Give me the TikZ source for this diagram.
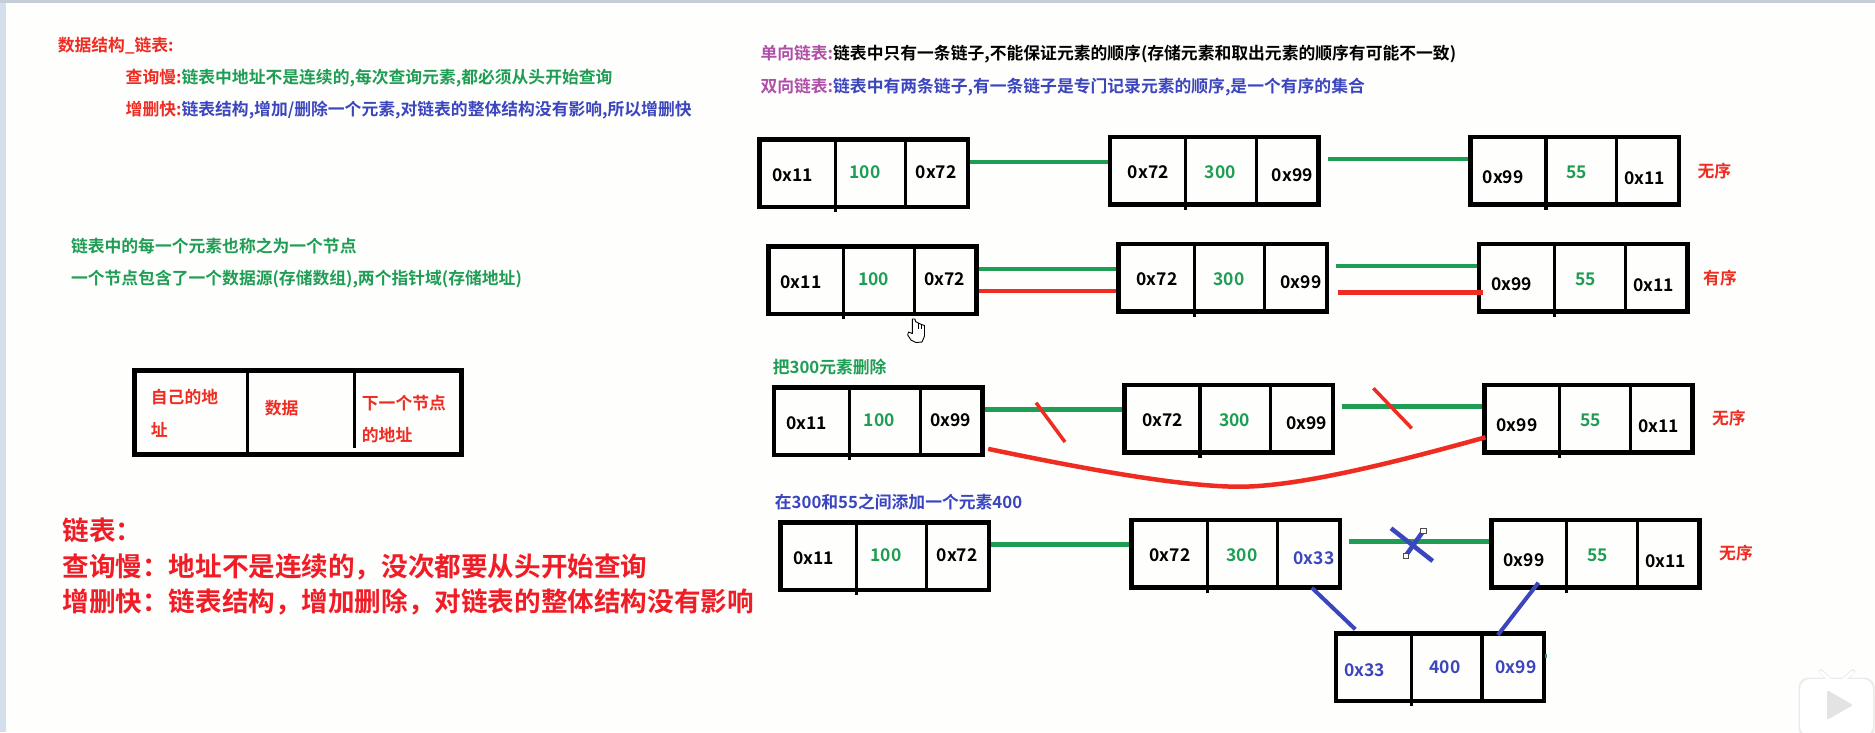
\documentclass[tikz,border=0pt]{standalone}
\usepackage{fontspec}
\setmainfont{Noto Sans CJK SC}[BoldFont={Noto Sans CJK SC Bold}]
\usetikzlibrary{backgrounds}
\definecolor{lred}{HTML}{EE2C22}
\definecolor{lgreen}{HTML}{1F9D55}
\definecolor{lblue}{HTML}{3B45BE}
\definecolor{lpurple}{HTML}{B04FA8}
\definecolor{bigred}{HTML}{F01C26}
\definecolor{paper}{HTML}{FEFEFC}
\newcommand{\gr}[1]{\textcolor{lgreen}{#1}}
\newcommand{\bl}[1]{\textcolor{lblue}{#1}}
\newcommand{\re}[1]{\textcolor{lred}{#1}}
\newcommand{\pu}[1]{\textcolor{lpurple}{#1}}
\newcommand{\fcolon}{\symbol{"FF1A}}
\newcommand{\fcomma}{\symbol{"FF0C}}
\tikzset{
  x=1pt,y=-1pt,
  txt/.style={inner sep=0pt,anchor=west,font=\fontsize{16.8}{20}\selectfont\bfseries,text height=14.3pt,text depth=1.7pt},
  big/.style={inner sep=0pt,anchor=west,font=\fontsize{26.6}{30}\selectfont\bfseries,text height=22.6pt,text depth=2.7pt,text=bigred},
  cellbox/.style={draw=black,line width=4.5pt,fill=none,inner sep=0pt,minimum width=208.3pt,minimum height=67.5pt,anchor=north west},
  celltxt/.style={inner sep=0pt,font=\fontsize{17.5}{20}\selectfont\bfseries,text height=14.9pt,text depth=1.7pt},
  divider/.style={draw=black,line width=3.2pt},
  glink/.style={draw=lgreen,line width=4.5pt},
  rlink/.style={draw=lred,line width=4.5pt},
  blink/.style={draw=lblue,line width=4.5pt},
  handle/.style={draw=black!70,line width=.9pt,fill=white,inner sep=0pt,minimum size=5.5pt},
}
\newcommand{\cellnode}[3]{%
  \node[cellbox] (#1) at (#2) {};
  \draw[divider] ([shift={(77.8,2)}]#1.north west) -- ([shift={(77.8,75)}]#1.north west);
  \draw[divider] ([shift={(148.4,2)}]#1.north west) -- ([shift={(148.4,70)}]#1.north west);
}
\newcommand{\celltext}[4]{\node[celltxt] (#1-#2) at ([shift={(#3)}]#1.north west) {#4};}
\newcommand{\typeA}[5]{\cellnode{#1}{#2}{}%
  \celltext{#1}{a}{35,37.7}{#3}\celltext{#1}{b}{107.5,35}{#4}\celltext{#1}{c}{178.7,34.7}{#5}}
\newcommand{\typeB}[5]{\cellnode{#1}{#2}{}%
  \celltext{#1}{a}{40.6,37.5}{#3}\celltext{#1}{b}{112.5,37.5}{#4}\celltext{#1}{c}{184.6,40.3}{#5}}
\newcommand{\typeC}[5]{\cellnode{#1}{#2}{}%
  \celltext{#1}{a}{35,42}{#3}\celltext{#1}{b}{108.6,37.6}{#4}\celltext{#1}{c}{176.6,43.3}{#5}}
\begin{document}
\begin{tikzpicture}
\useasboundingbox (0,0) rectangle (1875,732);
\begin{pgfonlayer}{background}
  \fill[paper] (0,0) rectangle (1875,732);
  \fill[fill={rgb,255:red,213;green,223;blue,236}] (0,0) rectangle (6,732);
  \fill[fill={rgb,255:red,197;green,205;blue,216}] (0,0) rectangle (1875,3);
\end{pgfonlayer}

% Left column texts
\node[txt,text=lred] (t1) at (57.6,45) {数据结构\_链表:};
\node[txt] (t2) at (125.5,76.7) {\re{查询慢:}\gr{链表中地址不是连续的,每次查询元素,都必须从头开始查询}};
\node[txt] (t3) at (125.5,109.3) {\re{增删快:}\bl{链表结构,增加/删除一个元素,对链表的整体结构没有影响,所以增删快}};
\node[txt,text=lgreen] (t4) at (70.8,245.7) {链表中的每一个元素也称之为一个节点};
\node[txt,text=lgreen] (t5) at (70.8,278.3) {一个节点包含了一个数据源(存储数组),两个指针域(存储地址)};

% Legend box
\node[draw=black,line width=4.5pt,inner sep=0pt,minimum width=326.8pt,minimum height=83.9pt,anchor=north west] (legend) at (132.3,368.3) {};
\draw[divider] ([shift={(114.9,4)}]legend.north west) -- ([shift={(114.9,88)}]legend.north west);
\draw[divider] ([shift={(221.9,5)}]legend.north west) -- ([shift={(221.9,80)}]legend.north west);
\node[txt,text=lred] (l1) at (150.7,397.3) {自己的地};
\node[txt,text=lred] (l2) at (150.7,430) {址};
\node[txt,text=lred] (l3) at (264.7,408.3) {数据};
\node[txt,text=lred] (l4) at (361.7,402.7) {下一个节点};
\node[txt,text=lred] (l5) at (361.7,435) {的地址};

% Large red summary
\node[big] (b1) at (62.2,530.7) {链表\fcolon};
\node[big] (b2) at (62.2,566.7) {查询慢\fcolon 地址不是连续的\fcomma 没次都要从头开始查询};
\node[big] (b3) at (62.2,602) {增删快\fcolon 链表结构\fcomma 增加删除\fcomma 对链表的整体结构没有影响};

% Top right headings
\node[txt] (h1) at (760.3,53.3) {\pu{单向链表:}链表中只有一条链子,不能保证元素的顺序(存储元素和取出元素的顺序有可能不一致)};
\node[txt] (h2) at (760.3,86) {\pu{双向链表:}\bl{链表中有两条链子,有一条链子是专门记录元素的顺序,是一个有序的集合}};
\node[txt,text=lgreen] (h3) at (772.6,366.7) {把300元素删除};
\node[txt,text=lblue] (h4) at (774.7,501.7) {在300和55之间添加一个元素400};

% Row 1
\typeA{A1}{757.4,137.3}{0x11}{\gr{100}}{0x72}
\typeB{B1}{1107.7,134.7}{0x72}{\gr{300}}{0x99}
\typeC{C1}{1468.2,134.7}{0x99}{\gr{55}}{0x11}
% Row 2
\typeA{A2}{766,244.3}{0x11}{\gr{100}}{0x72}
\typeB{B2}{1116.4,241.7}{0x72}{\gr{300}}{0x99}
\typeC{C2}{1476.9,241.7}{0x99}{\gr{55}}{0x11}
% Row 3
\typeA{A3}{771.8,385.3}{0x11}{\gr{100}}{0x99}
\typeB{B3}{1122.2,382.7}{0x72}{\gr{300}}{0x99}
\typeC{C3}{1482,382.7}{0x99}{\gr{55}}{0x11}
% Row 4
\typeA{A4}{778.4,520.3}{0x11}{\gr{100}}{0x72}
\typeB{B4}{1129.4,517.7}{0x72}{\gr{300}}{\bl{0x33}}
\typeC{C4}{1489,517.7}{0x99}{\gr{55}}{0x11}
% Inserted node
\cellnode{D4}{1333.6,631.3}{}
\celltext{D4}{a}{31.3,38.7}{\bl{0x33}}
\celltext{D4}{b}{111.5,36}{\bl{400}}
\celltext{D4}{c}{182.4,36}{\bl{0x99}}

% Order labels
\node[txt,text=lred,anchor=center] (o1) at (1714.3,170.7) {无序};
\node[txt,text=lred,anchor=center] (o2) at (1720,277.7) {有序};
\node[txt,text=lred,anchor=center] (o3) at (1728.8,418.3) {无序};
\node[txt,text=lred,anchor=center] (o4) at (1736,553.3) {无序};

% Links below the boxes
\begin{pgfonlayer}{background}
\draw[glink] ([shift={(-1.5,24.7)}]A1.north east) -- ([shift={(4.3,27.3)}]B1.north west);
\draw[glink] ([shift={(7.3,24.3)}]B1.north east) -- ([shift={(1.5,24.3)}]C1.north west);
\draw[glink] ([shift={(-2.3,24.7)}]A2.north east) -- ([shift={(3.6,27.3)}]B2.north west);
\draw[glink] ([shift={(6.5,24.3)}]B2.north east) -- ([shift={(1.1,24.3)}]C2.north west);
\draw[rlink] ([shift={(-2.3,46.7)}]A2.north east) -- ([shift={(.7,49.3)}]B2.north west);
\draw[glink] ([shift={(-2.2,24)}]A3.north east) -- ([shift={(2.8,26.6)}]B3.north west);
\draw[glink] ([shift={(6.5,24)}]B3.north east) -- ([shift={(1.3,24)}]C3.north west);
\draw[glink] ([shift={(-1.5,24)}]A4.north east) -- ([shift={(3.6,26.6)}]B4.north west);
\draw[glink] ([shift={(6.6,23.6)}]B4.north east) -- ([shift={(.6,23.6)}]C4.north west);
\end{pgfonlayer}
\draw[rlink] ([shift={(8.8,51)}]B2.north east) -- ([shift={(6.5,51)}]C2.north west);

% Deletion strokes and bypass
\coordinate (s1a) at (1036,402.7);
\coordinate (s1b) at (1065,442);
\coordinate (s2a) at (1373.4,388.3);
\coordinate (s2b) at (1411.7,428.3);
\coordinate (cm) at (1239.5,486.7);
\draw[draw=lred,line width=3.5pt] (s1a) -- (s1b);
\draw[draw=lred,line width=3.5pt] (s2a) -- (s2b);
\draw[rlink] ([shift={(3.6,-8.4)}]A3.south east) .. controls (1080,468) and (1180,486.7) .. (cm)
  .. controls (1300,486.7) and (1400,461) .. ([shift={(3.5,54.6)}]C3.north west);

% Insertion strokes
\coordinate (xa) at (1391,528.3);
\coordinate (xb) at (1432.7,561);
\coordinate (xc) at (1423.3,531);
\coordinate (xd) at (1405.7,555.7);
\draw[blink] (xa) -- (xb);
\draw[blink] (xc) -- (xd);
\node[handle] (ha) at (xc) {};
\node[handle] (hb) at (xd) {};
\draw[blink,line width=4pt] ([shift={(-30.4,70)}]B4.north east) -- ([shift={(21.7,-2)}]D4.north west);
\draw[blink,line width=4pt] ([shift={(49.4,65)}]C4.north west) -- ([shift={(164.3,3.7)}]D4.north west);
\fill[lgreen] (1545,654) rectangle (1547,658);

% Hand cursor
\draw[black,line width=.9pt,fill=white,line join=round]
  (912.3,319) -- (912.3,333.5) -- (908.5,332) -- (907.7,335) -- (911,340) -- (916,342.5) -- (922,342) -- (924.5,336) -- (924.5,325.5)
  -- (921,324.3) -- (918.5,323) -- (915.5,321.5) -- (915,319) -- cycle;
\draw[black,line width=.6pt] (918.5,323) -- (918.5,329) (921,324.3) -- (921,329);

% Player logo
\draw[black!8,line width=4.5pt,line cap=round] (1821,671.5) -- (1830,680) (1853,671.5) -- (1843,680);
\fill[black!8,rounded corners=10pt] (1798.5,677.5) rectangle (1874.5,738);
\fill[white,rounded corners=10pt] (1800,679) rectangle (1873,736);
\draw[white,line width=3pt,line cap=round] (1821,672) -- (1830,680) (1853,672) -- (1843,680);
\fill[black!11,rounded corners=2pt] (1827,690) -- (1853,705) -- (1827,720) -- cycle;
\end{tikzpicture}
\end{document}
